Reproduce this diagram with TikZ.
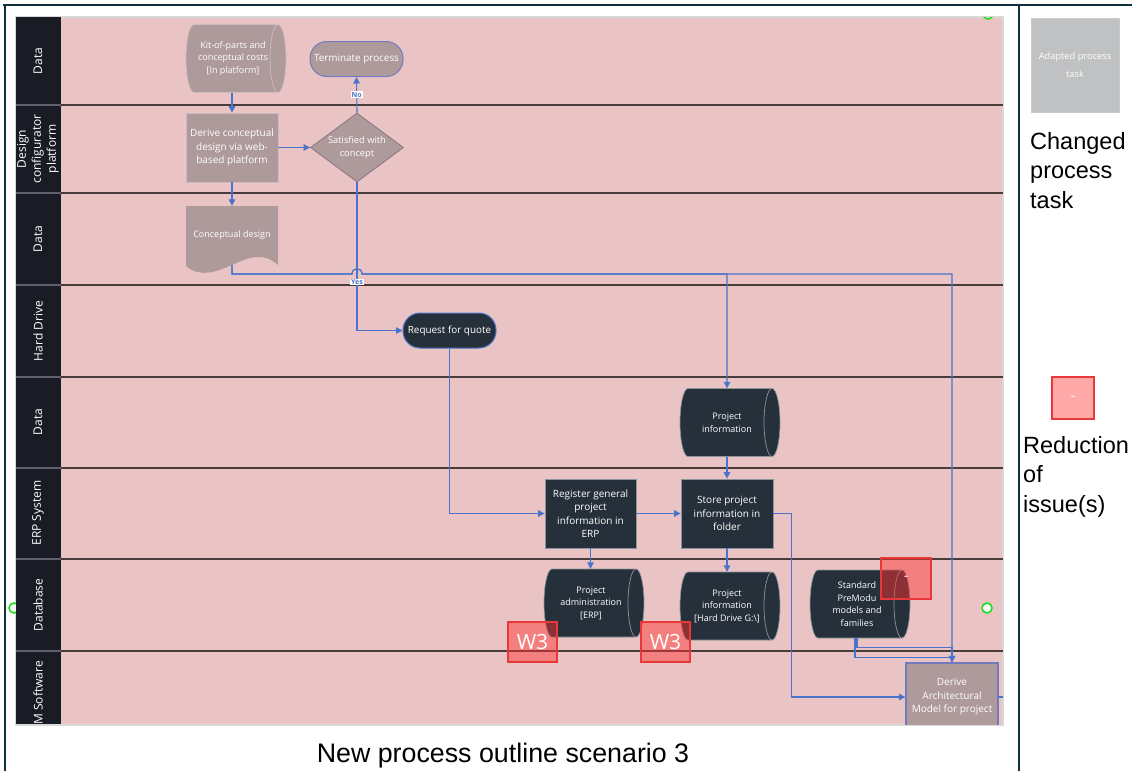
\documentclass[tikz,border=0pt]{standalone}
\usepackage{fontspec}
\setmainfont{Open Sans}
\newfontfamily\legendfont{Liberation Sans}
\usetikzlibrary{arrows.meta,shapes.geometric}

\definecolor{lanepink}{HTML}{EAC4C4}
\definecolor{mauve}{HTML}{AF9A9B}
\definecolor{mauveedge}{HTML}{CDBDBE}
\definecolor{darknode}{HTML}{26303A}
\definecolor{darkedge}{HTML}{8C959E}
\definecolor{headdark}{HTML}{1A1C25}
\definecolor{headsep}{HTML}{5C6068}
\definecolor{lanesep}{HTML}{4A3C3C}
\definecolor{flowblue}{HTML}{4A74C9}
\definecolor{edgeblue}{HTML}{7379BE}
\definecolor{diaedge}{HTML}{8A7A86}
\definecolor{framecol}{HTML}{12303B}
\definecolor{issuered}{HTML}{FF3232}
\definecolor{issueedge}{HTML}{E8383A}
\definecolor{legendgray}{HTML}{BFC1C3}
\definecolor{hintgreen}{HTML}{1EE01E}

% horizontal data store (cylinder lying on its side)
% #1 fill, #2 edge, #3 centre x, #4 centre y, #5 node name, #6 text
\newcommand{\datastore}[6]{%
  \path[fill=#1, draw=#2, line width=0.7pt]
    ({#3-42},{#4-34}) -- ({#3+42},{#4-34})
    .. controls ({#3+46.4},{#4-34}) and ({#3+50},{#4-18.7}) .. ({#3+50},{#4})
    .. controls ({#3+50},{#4+18.7}) and ({#3+46.4},{#4+34}) .. ({#3+42},{#4+34})
    -- ({#3-42},{#4+34})
    .. controls ({#3-46.4},{#4+34}) and ({#3-50},{#4+18.7}) .. ({#3-50},{#4})
    .. controls ({#3-50},{#4-18.7}) and ({#3-46.4},{#4-34}) .. ({#3-42},{#4-34})
    -- cycle;
  \draw[#2, line width=0.7pt]
    ({#3+42},{#4-34})
    .. controls ({#3+37.6},{#4-34}) and ({#3+34},{#4-18.7}) .. ({#3+34},{#4})
    .. controls ({#3+34},{#4+18.7}) and ({#3+37.6},{#4+34}) .. ({#3+42},{#4+34});
  \node[storetext] (#5) at ({#3-3},{#4}) {#6};
}

\tikzset{
  flow/.style={draw=flowblue, line width=1.1pt, -{Triangle[length=6.5pt,width=6.5pt]}},
  flowline/.style={draw=flowblue, line width=1.1pt},
  task/.style={rectangle, minimum width=92pt, minimum height=69pt, inner sep=1pt,
    align=center, text=white, font=\fontsize{10}{13.5}\selectfont, line width=0.8pt},
  mauvetask/.style={task, fill=mauve, draw=mauveedge},
  darktask/.style={task, fill=darknode, draw=darkedge},
  terminal/.style={rectangle, rounded corners=17pt, minimum width=93pt, minimum height=35pt,
    inner sep=1pt, text=white, font=\fontsize{9.9}{12}\selectfont, line width=1pt},
  storetext/.style={minimum width=100pt, minimum height=68pt, inner sep=0pt, align=center,
    text=white, font=\fontsize{9}{12.5}\selectfont},
  lanelabel/.style={rotate=90, text=white, align=center, inner sep=0pt,
    font=\fontsize{12}{15}\selectfont},
  branch/.style={fill=white, text=flowblue, inner sep=0.8pt, font=\fontsize{7}{8}\selectfont\bfseries},
  issue/.style={fill=issuered, fill opacity=0.47, draw=issueedge, draw opacity=1, text opacity=1,
    text=white, line width=1.2pt, inner sep=0pt},
  hint/.style={draw=hintgreen, fill=white, line width=1.6pt},
}

\begin{document}
\begin{tikzpicture}[x=1pt,y=-1pt]
\useasboundingbox (0,0) rectangle (1132,771);
\fill[white] (0,0) rectangle (1132,771);

% outer frame
\draw[framecol, line width=2pt] (3,5) -- (1132,5);
\draw[framecol, line width=2pt] (5,5) -- (5,771);
\draw[framecol, line width=2pt] (1019,5) -- (1019,771);

% swimlane area
\fill[lanepink] (61,17) rectangle (1003,724);
\draw[black!15, line width=1.5pt] (16,17) rectangle (1003,725);
\draw[hint] (14,608) circle (5pt);
\fill[headdark] (16,17) rectangle (61,724);
\foreach \yy in {105,193,285,377,468,559,651} {
  \draw[headsep, line width=1.3pt] (16,\yy) -- (61,\yy);
  \draw[lanesep, line width=2.6pt] (61,\yy) -- (1003,\yy);
}
\begin{scope}
  \clip (16,17) rectangle (1003,724);
  \draw[hint] (988,14) circle (5pt);
\end{scope}
\draw[hint] (987,608) circle (5pt);

% lane titles
\node[lanelabel] (lane1) at (38,61) {Data};
\node[lanelabel] (lane2) at (38,149) {Design\\configurator\\platform};
\node[lanelabel] (lane3) at (38,239) {Data};
\node[lanelabel] (lane4) at (38,331) {Hard Drive};
\node[lanelabel] (lane5) at (38,422) {Data};
\node[lanelabel] (lane6) at (38,513) {ERP System};
\node[lanelabel] (lane7) at (38,605) {Database};
\node[lanelabel, anchor=east] (lane8) at (38,661) {M Software};

% process shapes
\datastore{mauve}{mauveedge}{236}{58.5}{kit}{Kit-of-parts and\\conceptual costs\\{[In platform]}}
\node[terminal, fill=mauve, draw=edgeblue] (term) at (356.5,59) {Terminate process};
\node[mauvetask] (dcd) at (232,147.5) {Derive conceptual\\design via web-\\based platform};
\node[diamond, aspect=1.35, minimum width=93pt, minimum height=69pt, inner sep=0pt,
  fill=mauve, draw=diaedge, line width=0.9pt, text=white, align=center,
  font=\fontsize{9.3}{12.5}\selectfont] (sat) at (357,147.5) {Satisfied with\\concept};

\fill[mauve] (186,206) -- (278,206) -- (278,265)
  .. controls (262,251) and (248,258) .. (232,265)
  .. controls (216,272) and (200,278) .. (186,266) -- cycle;
\node[minimum width=92pt, minimum height=59pt, inner sep=0pt, text=white,
  font=\fontsize{9}{11}\selectfont] (cd) at (232,235.5) {Conceptual design};

\node[terminal, fill=darknode, draw=flowblue] (rfq) at (449.5,330.5) {Request for quote};
\datastore{darknode}{darkedge}{730}{422.5}{pinfo}{Project\\information}
\node[darktask, minimum width=91pt] (reg) at (590.5,513.5) {Register general\\project\\information in\\ERP};
\node[darktask] (store) at (727,513.5) {Store project\\information in\\folder};
\datastore{darknode}{darkedge}{594}{603}{padm}{Project\\administration\\{[ERP]}}
\datastore{darknode}{darkedge}{730}{606}{phd}{Project\\information\\{[Hard Drive G:\textbackslash]}}
\datastore{darknode}{darkedge}{860}{604}{spm}{Standard\\PreModu\\models and\\families}
\begin{scope}
  \clip (16,17) rectangle (1003,724);
  \node[mauvetask, draw=edgeblue, line width=1.3pt, minimum height=68pt] (dam) at (952,697)
    {Derive\\Architectural\\Model for project};
\end{scope}

% connectors
\coordinate (busrow) at (0,274);
\coordinate (yesrow) at (0,282);
\coordinate (damout) at (1003,697);
\draw[flow] (dcd.north |- kit.south) -- (dcd.north);
\draw[flow] (dcd.east) -- (sat.west);
\draw[flow] (dcd.south) -- (cd.north);
\draw[flow] (sat.north) -- node[branch] (nolbl) {No} (term.south);
\draw[flow] (sat.south) |- (rfq.west);
\draw[flow] (cd.south) -- (cd.south |- busrow) -- (352,274)
  .. controls (352,267) and (362,267) .. (362,274) -| (pinfo.north);
\draw[flow] (cd.south) -- (cd.south |- busrow) -- (352,274)
  .. controls (352,267) and (362,267) .. (362,274) -| (dam.north);
\node[branch] (yeslbl) at (sat.south |- yesrow) {Yes};
\draw[flow] (rfq.south) |- (reg.west);
\draw[flow] (reg.east) -- (store.west);
\draw[flow] (pinfo.south) -- (store.north);
\draw[flow] (reg.south) -- (reg.south |- padm.north);
\draw[flow] (store.south) -- (store.south |- phd.north);
\draw[flow] (store.east) -- ++(18,0) |- (dam.west);
\draw[flowline] (spm.south) -- ++(0,9) -| (dam.north);
\draw[flow] ([xshift=-2pt]spm.south) -- ++(0,19) -| (dam.north);
\draw[flowline] (dam.east) -- (damout);

% issue markers
\node[issue, minimum width=49pt, minimum height=40pt, font=\fontsize{21}{22}\selectfont] (w3a) at (532.5,642) {W3};
\node[issue, minimum width=49pt, minimum height=40pt, font=\fontsize{21}{22}\selectfont] (w3b) at (665.5,642) {W3};
\node[issue, minimum width=50pt, minimum height=41pt, font=\fontsize{14}{14}\selectfont] (red1) at (906,578.5) {-};

% key
\node[fill=legendgray, draw=legendgray!85!white, minimum width=88pt, minimum height=94pt,
  text=white, align=center, font=\fontsize{9.3}{18}\selectfont] (keytask) at (1075,65) {Adapted process\\task};
\node[anchor=north west, align=left, inner sep=0pt, font=\legendfont\fontsize{23.5}{29.5}\selectfont]
  (keytasktxt) at (1030,132) {Changed\\process\\task};
\node[issue, fill opacity=0.42, minimum width=42pt, minimum height=42pt, font=\fontsize{14}{14}\selectfont]
  (keyissue) at (1073,398) {-};
\node[anchor=north west, align=left, inner sep=0pt, font=\legendfont\fontsize{23.5}{29.5}\selectfont]
  (keyissuetxt) at (1023,436) {Reduction\\of\\issue(s)};

% caption
\node[anchor=base, inner sep=0pt, font=\legendfont\fontsize{26.8}{30}\selectfont] (caption) at (503,762)
  {New process outline scenario 3};
\end{tikzpicture}
\end{document}
